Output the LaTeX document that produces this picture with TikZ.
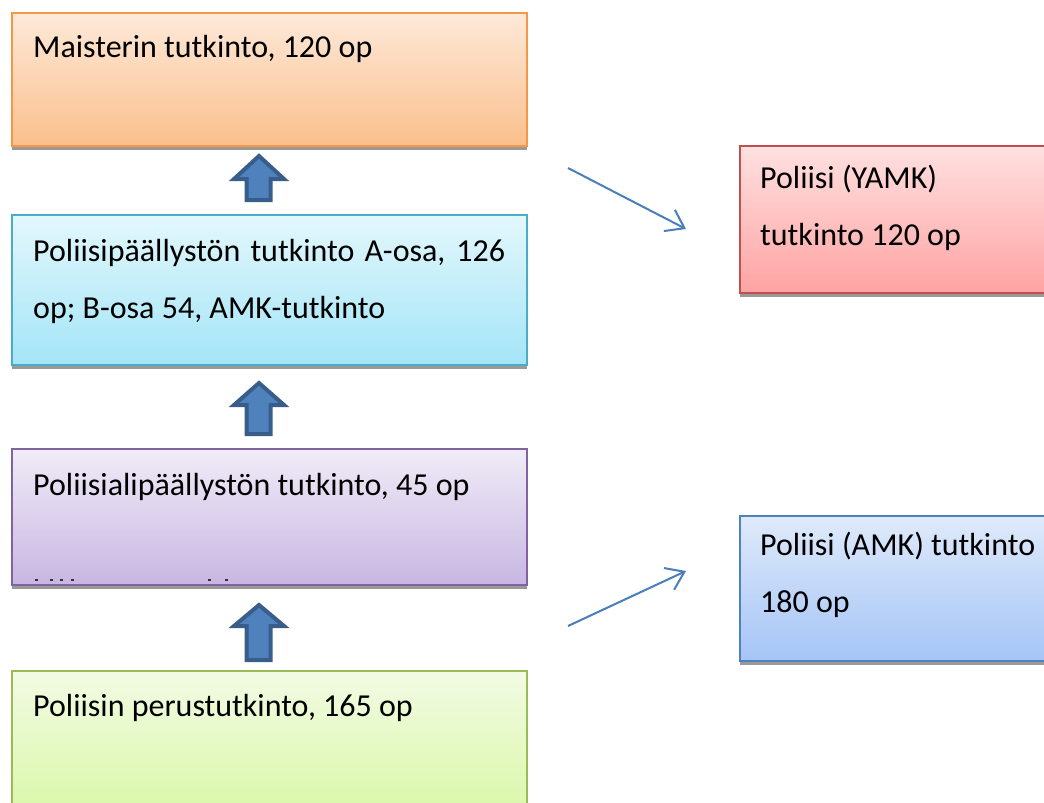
\documentclass[tikz,border=0pt]{standalone}
\usepackage{fontspec}
\setmainfont{Carlito}
\usetikzlibrary{arrows.meta,calc,shadows}
\definecolor{orB}{HTML}{F79646}\definecolor{orT}{HTML}{FDE9D9}\definecolor{orD}{HTML}{FBBF8C}
\definecolor{cyB}{HTML}{4BACC6}\definecolor{cyT}{HTML}{E3F7FC}\definecolor{cyD}{HTML}{A3E5F7}
\definecolor{puB}{HTML}{8064A2}\definecolor{puT}{HTML}{F0ECF7}\definecolor{puD}{HTML}{C8B6E2}
\definecolor{grB}{HTML}{9BBB59}\definecolor{grT}{HTML}{F2FBE3}\definecolor{grD}{HTML}{D7F7A2}
\definecolor{reB}{HTML}{C0504D}\definecolor{reT}{HTML}{FFE0E0}\definecolor{reD}{HTML}{FFA3A3}
\definecolor{blB}{HTML}{4F81BD}\definecolor{blT}{HTML}{DFEAFB}\definecolor{blD}{HTML}{A5C4F6}
\definecolor{arF}{HTML}{4F81BD}\definecolor{arE}{HTML}{385D8A}
\definecolor{lnC}{HTML}{4A7EBB}
\tikzset{
  box/.style={rectangle, draw, line width=2pt, anchor=north west, inner sep=0pt,
    drop shadow={shadow xshift=0pt, shadow yshift=-4pt, fill=black!40, opacity=1}},
  txt/.style={inner sep=0pt, anchor=base west, font=\fontsize{32}{38}\selectfont},
  conn/.style={draw=lnC, line width=2pt, -{Straight Barb[length=17pt,width=24pt]}},
  blockup/.pic={
    \filldraw[fill=arF, draw=arE, line width=4pt, line join=miter]
      (0,3) -- (-25,\hb) -- (-12.5,\hb) -- (-12.5,\bt) -- (11.5,\bt) -- (11.5,\hb) -- (25,\hb) -- cycle;
  }
}
\begin{document}
\begin{tikzpicture}[x=1pt,y=-1pt]
\useasboundingbox (0,0) rectangle (1044,803);
\clip (0,0) rectangle (1044,803);

% left column boxes
\node[box, draw=orB, top color=orT, bottom color=orD, minimum width=515pt, minimum height=133pt] (mast) at (11,12) {};
\node[box, draw=cyB, top color=cyT, bottom color=cyD, minimum width=515pt, minimum height=150pt] (ppt) at (11,214) {};
\node[box, draw=puB, top color=puT, bottom color=puD, minimum width=515pt, minimum height=136pt] (palt) at (11,448) {};
\node[box, draw=grB, top color=grT, bottom color=grD, minimum width=515pt, minimum height=160pt] (pper) at (11,670) {};

% right column boxes
\node[box, draw=reB, top color=reT, bottom color=reD, minimum width=330pt, minimum height=147pt] (yamk) at (739,145) {};
\node[box, draw=blB, top color=blT, bottom color=blD, minimum width=330pt, minimum height=145pt] (amk) at (739,515) {};

% texts
\node[txt] (mastt) at ($(mast.north west)+(22,45)$) {Maisterin tutkinto, 120 op};
\node[txt] (pptt1) at ($(ppt.north west)+(22,47)$) {\makebox[472pt][s]{Poliisipäällystön tutkinto A-osa, 126}};
\node[txt] (pptt2) at ($(ppt.north west)+(22,104)$) {op; B-osa 54, AMK-tutkinto};
\node[txt] (paltt) at ($(palt.north west)+(22,47)$) {Poliisialipäällystön tutkinto, 45 op};
\node[txt] (ppert) at ($(pper.north west)+(22,46)$) {Poliisin perustutkinto, 165 op};
\node[txt] (yamkt1) at ($(yamk.north west)+(21,43)$) {Poliisi (YAMK)};
\node[txt] (yamkt2) at ($(yamk.north west)+(21,100)$) {tutkinto 120 op};
\node[txt] (amkt1) at ($(amk.north west)+(21,40)$) {Poliisi (AMK) tutkinto};
\node[txt] (amkt2) at ($(amk.north west)+(21,97)$) {180 op};

% clipped fragments of a hidden text line in the purple box
\foreach \fx in {35,50,60,71,208,225}
  \fill[black!80] (\fx,578.5) rectangle ++(3.2,2.4);

% block arrows
\def\hb{26}\def\bt{47}
\pic at (259,153) {blockup};
\def\hb{25}\def\bt{54}
\pic at (259,380) {blockup};
\def\hb{24}\def\bt{58}
\pic at (259,602) {blockup};

% thin arrows
\coordinate (a1s) at (568,168);
\coordinate (a1e) at (686,229);
\coordinate (a2s) at (568,626);
\coordinate (a2e) at (686,571);
\draw[conn] (a1s) -- (a1e);
\draw[conn] (a2s) -- (a2e);
\end{tikzpicture}
\end{document}
